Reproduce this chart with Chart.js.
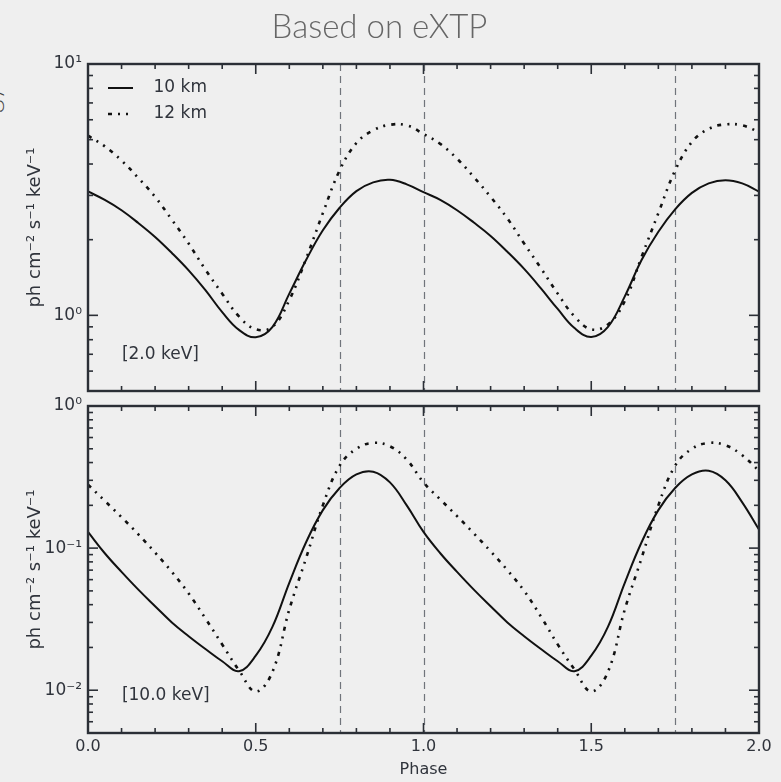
<!DOCTYPE html>
<html>
<head>
<meta charset="utf-8">
<script src="https://cdn.jsdelivr.net/npm/chart.js@4.4.1/dist/chart.umd.min.js"></script>
<style>
  body { margin: 0; background: #efefef; width: 781px; height: 782px; overflow: hidden; position: relative; }
  canvas { position: absolute; left: 0; }
  #softChart { top: 0; }
  #hardChart { top: 396px; }
  #sideLabel { position: absolute; left: -27px; top: 164px; transform: rotate(-90deg); transform-origin: left top;
    font: 300 26px Lato, sans-serif; color: #444; white-space: nowrap; }
</style>
</head>
<body>
<div id="sideLabel">Energy</div>
<canvas id="softChart" width="781" height="402"></canvas>
<canvas id="hardChart" width="781" height="386"></canvas>
<script>
// phase grid (x values)
const phase = [0, 0.05, 0.1, 0.15, 0.2, 0.25, 0.3, 0.35, 0.4, 0.45, 0.5, 0.55, 0.6, 0.65, 0.7, 0.75, 0.8, 0.85, 0.9, 0.95, 1.0,
  1.05, 1.1, 1.15, 1.2, 1.25, 1.3, 1.35, 1.4, 1.45, 1.5, 1.55, 1.6, 1.65, 1.7, 1.75, 1.8, 1.85, 1.9, 1.95, 2.0];

// 2.0 keV panel
const soft10km = [3.11, 2.88, 2.62, 2.33, 2.05, 1.77, 1.51, 1.26, 1.03, 0.875, 0.818, 0.90, 1.22, 1.66, 2.18, 2.68, 3.12, 3.38, 3.46, 3.32, 3.09,
  2.88, 2.62, 2.34, 2.07, 1.79, 1.53, 1.28, 1.06, 0.89, 0.82, 0.90, 1.19, 1.66, 2.15, 2.64, 3.07, 3.35, 3.45, 3.35, 3.11];
const soft12km = [5.19, 4.70, 4.13, 3.52, 2.96, 2.40, 1.93, 1.52, 1.22, 0.99, 0.88, 0.90, 1.15, 1.68, 2.55, 3.77, 4.85, 5.45, 5.73, 5.70, 5.27,
  4.81, 4.20, 3.55, 2.96, 2.43, 1.93, 1.54, 1.22, 0.99, 0.88, 0.92, 1.14, 1.71, 2.55, 3.77, 4.89, 5.52, 5.75, 5.70, 5.36];

// 10.0 keV panel
const hard10km = [0.13, 0.092, 0.068, 0.051, 0.039, 0.030, 0.024, 0.0195, 0.016, 0.0136, 0.0175, 0.028, 0.057, 0.11, 0.185, 0.265, 0.33, 0.345, 0.29, 0.20, 0.13,
  0.092, 0.068, 0.051, 0.039, 0.030, 0.024, 0.0195, 0.016, 0.0136, 0.0175, 0.028, 0.057, 0.11, 0.185, 0.265, 0.33, 0.35, 0.30, 0.21, 0.135];
const hard12km = [0.28, 0.215, 0.165, 0.125, 0.093, 0.068, 0.048, 0.032, 0.021, 0.0138, 0.0098, 0.0135, 0.037, 0.085, 0.2, 0.38, 0.5, 0.55, 0.52, 0.42, 0.29,
  0.22, 0.168, 0.127, 0.095, 0.07, 0.05, 0.033, 0.021, 0.014, 0.0098, 0.0135, 0.037, 0.085, 0.2, 0.38, 0.5, 0.55, 0.53, 0.45, 0.35];

// ticks and markers
const xTickValues = [0, 0.5, 1, 1.5, 2];
const xTickLabels = ['0.0', '0.5', '1.0', '1.5', '2.0'];
const softYTicks = [1, 10];
const softYLabels = ['10⁰', '10¹'];
const hardYTicks = [0.01, 0.1, 1];
const hardYLabels = ['10⁻²', '10⁻¹', '10⁰'];
const markerPhases = [0.75, 1.0, 1.75];

const ink = '#2b2f36';
const lineInk = '#111111';
const textInk = '#30343c';
const dotDash = [4, 6, 2, 6, 2, 6];
const yTitle = 'ph cm⁻² s⁻¹ keV⁻¹';

const toPoints = arr => phase.map((p, i) => ({ x: p, y: arr[i] }));

function makeSwatch(dash, width) {
  const c = document.createElement('canvas');
  c.width = 37; c.height = 8;
  const g = c.getContext('2d');
  g.strokeStyle = lineInk;
  g.lineWidth = width;
  g.setLineDash(dash);
  g.beginPath(); g.moveTo(0, 4); g.lineTo(25, 4); g.stroke();
  return c;
}
const swatches = [makeSwatch([], 2), makeSwatch(dotDash, 2.6)];

// frame, inside ticks, dashed markers and panel label
const panelPlugin = {
  id: 'panel',
  afterLayout(chart) {
    const lg = chart.legend;
    if (lg && lg.options.display) {
      lg.left = chart.chartArea.left + 11;
      lg.top = chart.chartArea.top + 6.5;
    }
  },
  beforeDatasetsDraw(chart) {
    const { ctx, chartArea: a, scales: { x } } = chart;
    ctx.save();
    ctx.strokeStyle = '#70747b';
    ctx.lineWidth = 1.2;
    ctx.setLineDash([7, 5]);
    markerPhases.forEach(p => {
      const px = Math.round(x.getPixelForValue(p)) + 0.5;
      ctx.beginPath(); ctx.moveTo(px, a.top); ctx.lineTo(px, a.bottom); ctx.stroke();
    });
    ctx.restore();
  },
  afterDatasetsDraw(chart, args, opts) {
    const { ctx, chartArea: a, scales: { x, y } } = chart;
    ctx.save();
    ctx.strokeStyle = ink;
    ctx.lineWidth = 1.6;
    const seg = (x1, y1, x2, y2) => { ctx.beginPath(); ctx.moveTo(x1, y1); ctx.lineTo(x2, y2); ctx.stroke(); };
    for (let i = 0; i <= 20; i++) {
      const px = x.getPixelForValue(i / 10);
      const len = i % 5 === 0 ? 10 : 5;
      seg(px, a.bottom, px, a.bottom - len);
      seg(px, a.top, px, a.top + len);
    }
    const e0 = Math.floor(Math.log10(y.min)), e1 = Math.ceil(Math.log10(y.max));
    for (let e = e0; e <= e1; e++) {
      for (let m = 1; m <= 9; m++) {
        const v = m * Math.pow(10, e);
        if (v < y.min * 0.999 || v > y.max * 1.001) continue;
        const py = y.getPixelForValue(v);
        const len = m === 1 ? 10 : 5;
        seg(a.left, py, a.left + len, py);
        seg(a.right, py, a.right - len, py);
      }
    }
    ctx.lineWidth = 2.4;
    ctx.strokeRect(a.left, a.top, a.width, a.height);
    ctx.fillStyle = textInk;
    ctx.font = '17px "DejaVu Sans"';
    ctx.textBaseline = 'middle';
    ctx.fillText(opts.label, x.getPixelForValue(opts.at[0]), y.getPixelForValue(opts.at[1]));
    ctx.restore();
  }
};

function lineSets(a10, a12) {
  return [
    { label: '10 km', data: toPoints(a10), borderColor: lineInk, borderWidth: 2, pointRadius: 0, tension: 0.4, fill: false },
    { label: '12 km', data: toPoints(a12), borderColor: lineInk, borderWidth: 2.6, borderDash: dotDash, pointRadius: 0, tension: 0.4, fill: false }
  ];
}

function yAxis(min, max, ticks, labels) {
  return {
    type: 'logarithmic', min: min, max: max,
    grid: { display: false, drawTicks: false },
    border: { display: false },
    afterBuildTicks: s => { s.ticks = ticks.map(v => ({ value: v })); },
    ticks: {
      autoSkip: false, padding: 6, color: textInk,
      font: { family: 'DejaVu Sans', size: 17 },
      callback: v => { const k = ticks.indexOf(v); return k >= 0 ? labels[k] : ''; }
    },
    title: { display: true, text: yTitle, color: textInk, font: { family: 'DejaVu Sans', size: 18 }, padding: { top: 24.5, bottom: 0 } },
    afterFit: s => { s.width = 88; s.paddingTop = 0; s.paddingBottom = 0; }
  };
}

new Chart(document.getElementById('softChart'), {
  type: 'line',
  data: { datasets: lineSets(soft10km, soft12km) },
  options: {
    responsive: false, animation: false, devicePixelRatio: 1,
    layout: { padding: { left: 0, right: 22, top: 0, bottom: 0 } },
    scales: {
      x: {
        type: 'linear', min: 0, max: 2,
        grid: { display: false, drawTicks: false }, border: { display: false },
        ticks: { display: false },
        afterFit: s => { s.height = 11; }
      },
      y: yAxis(0.5, 10, softYTicks, softYLabels)
    },
    plugins: {
      title: {
        display: true, text: 'Based on eXTP', color: '#666666',
        font: { family: 'Lato', weight: 300, size: 33, lineHeight: 1.2 },
        padding: { top: 8, bottom: 16.4 }
      },
      legend: {
        position: 'chartArea', align: 'start',
        labels: {
          usePointStyle: true, pointStyleWidth: 37, padding: 9, color: textInk,
          font: { family: 'DejaVu Sans', size: 17 },
          generateLabels: chart => chart.data.datasets.map((ds, i) => ({
            text: ds.label, pointStyle: swatches[i], fillStyle: 'rgba(0,0,0,0)', strokeStyle: 'rgba(0,0,0,0)',
            lineWidth: 0, datasetIndex: i, hidden: false, fontColor: textInk
          }))
        }
      },
      tooltip: { enabled: false },
      panel: { label: '[2.0 keV]', at: [0.101, 0.70] }
    }
  },
  plugins: [panelPlugin]
});

new Chart(document.getElementById('hardChart'), {
  type: 'line',
  data: { datasets: lineSets(hard10km, hard12km) },
  options: {
    responsive: false, animation: false, devicePixelRatio: 1,
    layout: { padding: { left: 0, right: 22, top: 10, bottom: 0 } },
    scales: {
      x: {
        type: 'linear', min: 0, max: 2,
        grid: { display: false, drawTicks: false }, border: { display: false },
        afterBuildTicks: s => { s.ticks = xTickValues.map(v => ({ value: v })); },
        ticks: {
          autoSkip: false, maxRotation: 0, padding: 4, color: textInk,
          font: { family: 'DejaVu Sans', size: 16 },
          callback: v => { const k = xTickValues.indexOf(v); return k >= 0 ? xTickLabels[k] : ''; }
        },
        title: { display: true, text: 'Phase', color: textInk, font: { family: 'DejaVu Sans', size: 16 }, padding: { top: 0, bottom: 2.4 } },
        afterFit: s => { s.height = 49; }
      },
      y: yAxis(0.005, 1, hardYTicks, hardYLabels)
    },
    plugins: {
      title: { display: false },
      legend: { display: false },
      tooltip: { enabled: false },
      panel: { label: '[10.0 keV]', at: [0.101, 0.0091] }
    }
  },
  plugins: [panelPlugin]
});
</script>
</body>
</html>
